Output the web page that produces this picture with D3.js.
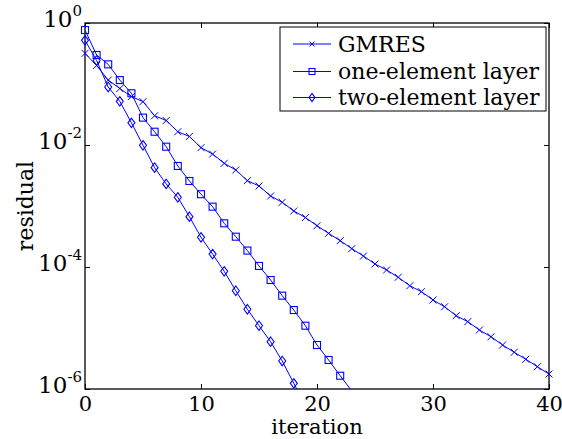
<!DOCTYPE html>
<html><head><meta charset="utf-8">
<script src="https://cdn.jsdelivr.net/npm/d3@7"></script>
<style>body{margin:0;background:#fff}svg{display:block}</style>
</head><body><svg id="c" width="562" height="439"></svg>
<script>
const iterations = d3.range(0, 41);
const gmres = [0.318,0.201,0.116,0.0843,0.0624,0.0513,0.0302,0.0252,0.0165,0.0138,
  0.00904,0.00711,0.00501,0.00389,0.00260,0.00213,0.00146,0.00115,8.28e-4,6.47e-4,
  4.75e-4,3.56e-4,2.70e-4,2.00e-4,1.51e-4,1.12e-4,8.93e-5,6.78e-5,4.93e-5,3.94e-5,
  2.88e-5,2.23e-5,1.59e-5,1.27e-5,9.27e-6,7.19e-6,5.26e-6,4.00e-6,3.07e-6,2.32e-6,1.76e-6];
const oneElement = [0.767,0.299,0.210,0.116,0.0705,0.0281,0.0165,0.00938,0.00453,0.00257,
  0.00156,9.75e-4,5.20e-4,3.14e-4,1.86e-4,1.04e-4,6.12e-5,3.39e-5,1.97e-5,1.09e-5,
  5.26e-6,2.99e-6,1.65e-6,9.27e-7];
const twoElement = [0.520,0.243,0.0893,0.0520,0.0231,0.00989,0.00425,0.00230,0.00139,6.68e-4,
  3.07e-4,1.63e-4,8.51e-5,4.08e-5,2.03e-5,1.09e-5,5.96e-6,2.88e-6,1.24e-6,5.26e-7];
const seriesNames = ["GMRES", "one-element layer", "two-element layer"];
const xTicks = [0, 10, 20, 30, 40];
const yTicks = [1e-6, 1e-4, 1e-2, 1];
const yTickExp = ["-6", "-4", "-2", "0"];
const xLabel = "iteration", yLabel = "residual";

const FONT = "'DejaVu Serif', 'Liberation Serif', serif";
const L = 85, R = 549, T = 23, B = 389;
const svg = d3.select("#c");
const x = d3.scaleLinear([0, 40], [L, R]);
const y = d3.scaleLog([1e-6, 1], [B, T]);
const blue = "#0000ff";

svg.append("defs").append("clipPath").attr("id", "clip")
  .append("rect").attr("x", L).attr("y", T).attr("width", R - L).attr("height", B - T);

// axes
const tk = 5;
const gx = svg.append("g").attr("transform", `translate(0,${B})`)
  .call(d3.axisBottom(x).tickValues(xTicks).tickSizeInner(-tk).tickSizeOuter(0).tickPadding(7));
svg.append("g").attr("transform", `translate(0,${T})`)
  .call(d3.axisTop(x).tickValues(xTicks).tickSizeInner(-tk).tickSizeOuter(0).tickFormat(""));
const gy = svg.append("g").attr("transform", `translate(${L},0)`)
  .call(d3.axisLeft(y).tickValues(yTicks).tickSizeInner(-tk).tickSizeOuter(0).tickPadding(3).tickFormat(""));
svg.append("g").attr("transform", `translate(${R},0)`)
  .call(d3.axisRight(y).tickValues(yTicks).tickSizeInner(-tk).tickSizeOuter(0).tickFormat(""));
svg.selectAll(".domain").remove();
svg.selectAll(".tick line").attr("stroke", "#000").attr("stroke-width", 1);
svg.selectAll("g").attr("font-family", null);
gx.selectAll(".tick text").style("font-family", FONT).attr("font-size", 21).attr("fill", "#000");
gy.selectAll(".tick text").each(function(d) {
  const t = d3.select(this).style("font-family", FONT).attr("fill", "#000").attr("dy", "0.32em");
  t.append("tspan").attr("font-size", 23).text("10");
  t.append("tspan").attr("font-size", 15).attr("dy", -11).text(yTickExp[yTicks.indexOf(d)]);
});

// frame
svg.append("rect").attr("x", L).attr("y", T).attr("width", R - L).attr("height", B - T)
  .attr("fill", "none").attr("stroke", "#000").attr("stroke-width", 1.3);

// markers
function drawMarker(g, type, cx, cy, s) {
  if (type === "x") {
    g.append("path").attr("d", `M${cx-s},${cy-s}L${cx+s},${cy+s}M${cx-s},${cy+s}L${cx+s},${cy-s}`)
      .attr("stroke", blue).attr("fill", "none").attr("stroke-width", 1);
  } else if (type === "s") {
    g.append("rect").attr("x", cx - s).attr("y", cy - s).attr("width", 2 * s).attr("height", 2 * s)
      .attr("stroke", blue).attr("fill", "none").attr("stroke-width", 1.1);
  } else {
    const h = s * 1.35;
    g.append("path").attr("d", `M${cx},${cy-h}L${cx+s},${cy}L${cx},${cy+h}L${cx-s},${cy}Z`)
      .attr("stroke", blue).attr("fill", "none").attr("stroke-width", 1.1);
  }
}

const series = [
  {vals: gmres, m: "x"},
  {vals: oneElement, m: "s"},
  {vals: twoElement, m: "d"}
];
const line = d3.line().x((d, i) => x(iterations[i])).y(d => y(d));
const plot = svg.append("g");
series.forEach(s => {
  plot.append("path").attr("d", line(s.vals)).attr("clip-path", "url(#clip)")
    .attr("fill", "none").attr("stroke", blue).attr("stroke-width", 1);
  const gm = plot.append("g");
  s.vals.forEach((v, i) => {
    if (v >= 1e-6 && v <= 1) drawMarker(gm, s.m, x(iterations[i]), y(v), 3.5);
  });
});

// legend
const lg = svg.append("g");
lg.append("rect").attr("x", 280).attr("y", 27).attr("width", 266).attr("height", 84)
  .attr("fill", "#fff").attr("stroke", "#000").attr("stroke-width", 1);
const rowsY = [44, 71.5, 97.5];
series.forEach((s, i) => {
  lg.append("line").attr("x1", 293).attr("x2", 331).attr("y1", rowsY[i]).attr("y2", rowsY[i])
    .attr("stroke", blue).attr("stroke-width", 1);
  drawMarker(lg, s.m, 312, rowsY[i], s.m === "x" ? 2.5 : 3);
  lg.append("text").attr("x", 338).attr("y", rowsY[i]).attr("dy", "0.35em")
    .style("font-family", FONT).attr("font-size", 22).attr("fill", "#000").text(seriesNames[i]);
});

// axis labels
svg.append("text").attr("x", (L + R) / 2).attr("y", 434).attr("text-anchor", "middle")
  .style("font-family", FONT).attr("font-size", 21).attr("fill", "#000").text(xLabel);
svg.append("text").attr("transform", `translate(33,${(T + B) / 2}) rotate(-90)`).attr("text-anchor", "middle")
  .style("font-family", FONT).attr("font-size", 22).attr("fill", "#000").text(yLabel);
</script></body></html>
